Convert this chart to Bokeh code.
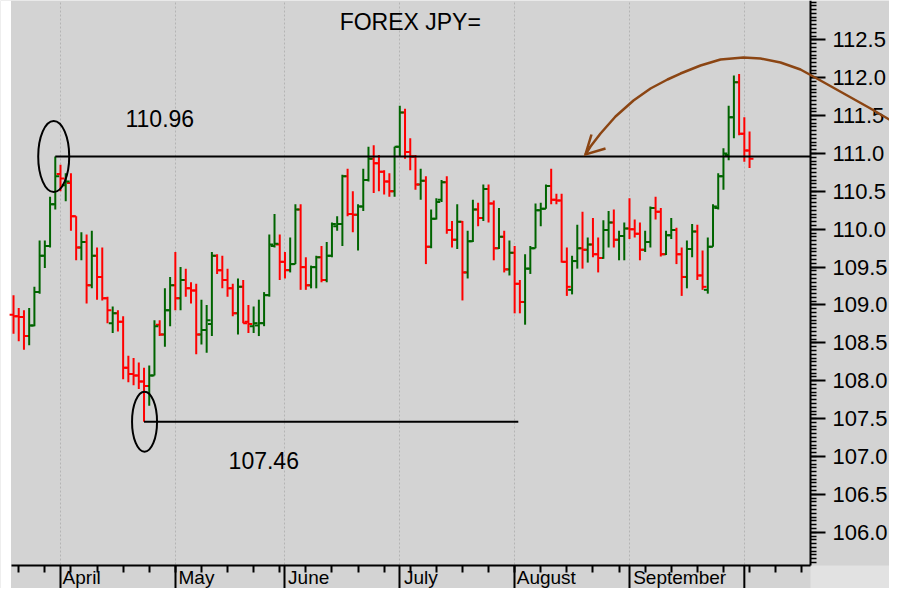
import numpy as np
import pandas as pd
from bokeh.plotting import figure
from bokeh.models import (Range1d, FixedTicker, Label, ColumnDataSource,
                          PrintfTickFormatter)
from bokeh.embed import file_html
from bokeh.resources import INLINE

# ---------------- data (USD/JPY daily bars) ----------------
start_date = "2021-03-19"
end_date = "2021-10-04"

open_ = [108.87, 108.85, 108.84, 108.59, 108.73, 109.17, 109.65, 109.78, 110.33,
         110.73, 110.58, 110.61, 110.17, 109.76, 109.83, 109.26, 109.65, 109.37, 109.09,
         108.76, 108.89, 108.78, 108.17, 108.09, 108.07, 107.99, 107.93, 108.07, 108.74,
         108.61, 108.93, 109.26, 109.09, 109.33, 109.22, 109.19, 108.61, 108.67, 108.75,
         109.65, 109.46, 109.33, 109.22, 108.89, 109.24, 108.78, 108.72, 108.73, 108.76,
         109.13, 109.78, 109.80, 109.57, 109.46, 109.54, 110.26, 109.50, 109.26, 109.50,
         109.63, 109.33, 109.65, 110.04, 110.07, 110.70, 110.20, 110.19, 110.30, 110.65,
         110.93, 110.87, 110.76, 110.63, 110.50, 111.09, 111.54, 111.02, 110.96, 110.59,
         110.64, 109.77, 110.14, 110.39, 110.62, 109.99, 109.86, 110.10, 109.43, 109.84,
         110.26, 110.15, 110.53, 110.34, 109.75, 109.90, 109.47, 109.69, 109.28, 109.04,
         109.48, 109.75, 110.25, 110.27, 110.57, 110.39, 110.38, 109.57, 109.20, 109.58,
         109.75, 109.73, 109.80, 109.67, 109.62, 109.99, 110.09, 109.86, 109.91, 110.01,
         110.00, 109.94, 109.73, 109.83, 110.28, 110.23, 109.67, 109.92, 109.99, 109.67,
         109.37, 109.74, 109.97, 109.39, 109.20, 109.77, 110.28, 110.70, 110.98, 111.48,
         111.94, 111.26, 111.04]

high = [109.13, 108.96, 108.93, 108.96, 109.24, 109.85, 109.85, 110.43, 110.96,
        110.85, 110.74, 110.74, 110.17, 109.96, 109.93, 109.98, 109.76, 109.76, 109.11,
        108.98, 108.93, 108.85, 108.33, 108.30, 108.24, 108.17, 108.20, 108.80, 108.80,
        109.22, 109.37, 109.70, 109.50, 109.48, 109.30, 109.28, 109.07, 109.00, 109.70,
        109.67, 109.65, 109.48, 109.28, 109.35, 109.33, 109.00, 108.98, 109.07, 109.17,
        109.93, 110.20, 109.93, 109.70, 109.89, 110.33, 110.33, 109.63, 109.52, 109.65,
        109.78, 109.83, 110.09, 110.17, 110.72, 110.80, 110.50, 110.33, 110.80, 111.09,
        111.11, 110.98, 110.78, 110.74, 111.09, 111.63, 111.59, 111.20, 110.98, 110.80,
        110.70, 110.26, 110.41, 110.65, 110.70, 110.11, 110.33, 110.11, 109.98, 110.39,
        110.35, 110.59, 110.59, 110.38, 110.28, 109.98, 109.85, 109.78, 109.33, 109.67,
        109.78, 110.34, 110.35, 110.59, 110.80, 110.47, 110.47, 109.76, 109.65, 110.06,
        110.23, 109.89, 110.15, 109.89, 110.12, 110.24, 110.26, 109.98, 110.09, 110.41,
        110.13, 110.09, 109.98, 110.30, 110.43, 110.28, 109.98, 110.15, 110.02, 109.76,
        109.85, 110.07, 110.06, 109.72, 109.89, 110.33, 110.74, 111.07, 111.63, 112.03,
        112.05, 111.48, 111.29]

low = [108.62, 108.52, 108.41, 108.47, 108.72, 109.15, 109.49, 109.76, 110.26,
       110.50, 110.37, 109.98, 109.59, 109.59, 109.02, 109.22, 109.07, 109.06, 108.76,
       108.63, 108.65, 108.02, 107.98, 107.94, 107.89, 107.46, 107.67, 108.07, 108.59,
       108.45, 108.72, 108.93, 108.93, 109.11, 109.02, 108.35, 108.48, 108.37, 108.59,
       109.41, 109.22, 109.11, 108.85, 108.61, 108.76, 108.63, 108.63, 108.59, 108.72,
       109.11, 109.76, 109.33, 109.35, 109.43, 109.54, 109.20, 109.20, 109.22, 109.22,
       109.30, 109.30, 109.63, 109.98, 109.78, 110.17, 109.96, 109.72, 110.24, 110.63,
       110.48, 110.50, 110.46, 110.43, 110.43, 110.96, 110.93, 110.78, 110.52, 110.39,
       109.54, 109.75, 110.13, 110.36, 109.94, 109.76, 109.74, 109.06, 109.35, 109.83,
       110.04, 110.11, 110.09, 109.59, 109.74, 109.43, 109.39, 108.89, 108.89, 108.74,
       109.41, 109.75, 110.04, 110.27, 110.33, 110.33, 109.56, 109.12, 109.14, 109.48,
       109.48, 109.56, 109.63, 109.43, 109.61, 109.76, 109.76, 109.59, 109.59, 109.87,
       109.89, 109.59, 109.70, 109.76, 110.13, 109.64, 109.66, 109.87, 109.54, 109.12,
       109.22, 109.63, 109.33, 109.20, 109.15, 109.77, 110.26, 110.52, 110.91, 111.20,
       111.24, 110.89, 110.81]

close = [108.85, 108.84, 108.59, 108.73, 109.17, 109.65, 109.78, 110.33, 110.70,
         110.67, 110.63, 110.17, 109.76, 109.83, 109.26, 109.65, 109.37, 109.09, 108.93,
         108.89, 108.78, 108.17, 108.09, 108.07, 107.99, 107.93, 108.07, 108.72, 108.61,
         108.93, 109.26, 109.09, 109.33, 109.22, 109.19, 108.61, 108.67, 108.80, 109.65,
         109.46, 109.33, 109.22, 108.89, 109.24, 108.76, 108.75, 108.76, 108.76, 109.13,
         109.80, 109.81, 109.57, 109.46, 109.54, 110.26, 109.50, 109.26, 109.50, 109.63,
         109.33, 109.65, 110.07, 110.07, 110.70, 110.20, 110.19, 110.30, 110.65, 110.93,
         110.87, 110.76, 110.63, 110.50, 111.09, 111.54, 111.02, 110.96, 110.59, 110.64,
         109.77, 110.14, 110.36, 110.62, 109.99, 109.86, 110.10, 109.43, 109.84, 110.26,
         110.15, 110.53, 110.34, 109.75, 109.90, 109.47, 109.69, 109.28, 109.04, 109.48,
         109.75, 110.25, 110.27, 110.57, 110.39, 110.38, 109.57, 109.24, 109.58, 109.75,
         109.73, 109.80, 109.67, 109.62, 109.99, 110.09, 109.86, 109.91, 110.01, 110.00,
         109.94, 109.73, 109.83, 110.28, 110.23, 109.67, 109.92, 109.99, 109.67, 109.37,
         109.74, 109.97, 109.39, 109.24, 109.77, 110.30, 110.70, 111.00, 111.48, 111.94,
         111.26, 111.04, 110.93]

y_ticks = [106.0, 106.5, 107.0, 107.5, 108.0, 108.5, 109.0, 109.5,
           110.0, 110.5, 111.0, 111.5, 112.0, 112.5]
month_labels = ["April", "May", "June", "July", "August", "September"]
label_pad = [8, 8, 9, 8, 12, 19]          # non-breaking spaces: left-aligned look
title_text = "FOREX JPY="
high_level = 110.96
low_level = 107.46

# ---------------- layout constants (data units) ----------------
X0, X1 = -2.494, 167.81            # whole canvas
Y0, Y1 = 105.257, 113.02
FR_L, FR_R = -0.387, 152.678       # chart area left / right
FR_B = 105.56                      # chart area bottom (x-axis line)

dates = pd.bdate_range(start_date, end_date)
idx = np.arange(len(dates))
colors = ["#006400" if c > o else "#ff0000" for o, c in zip(open_, close)]
src = ColumnDataSource(dict(x=idx, o=open_, h=high, l=low, c=close, col=colors,
                            xl=idx - 0.75, xr=idx + 0.75))

tick_dates = pd.bdate_range(start_date, "2021-10-22")
month_pos = [int(np.argmax(tick_dates.month == m)) for m in range(4, 11)]
monday_pos = [int(i) for i in np.where(tick_dates.weekday == 0)[0]]

W, H = 889, 588
p = figure(width=W, height=H, output_backend="svg", toolbar_location=None,
           x_range=Range1d(X0, X1), y_range=Range1d(Y0, Y1),
           x_axis_location="below", y_axis_location="right",
           min_border_left=0, min_border_right=0, min_border_top=0, min_border_bottom=0)
p.background_fill_color = "#d3d3d3"
p.border_fill_color = "#d3d3d3"
p.outline_line_color = None

# page-edge strip and lighter corner
p.quad(left=[X0], right=[-0.483], bottom=[Y0], top=[Y1], fill_color="white", line_color=None)
p.quad(left=[FR_R], right=[X1], bottom=[Y0], top=[FR_B], fill_color="#e2e2e2", line_color=None)

# x axis (fixed at the chart bottom)
xa = p.xaxis[0]
xa.fixed_location = FR_B
xa.bounds = (FR_L, FR_R)
xa.ticker = FixedTicker(ticks=month_pos[:6], minor_ticks=monday_pos)
xa.major_label_overrides = {pos: "\u00a0" * n + name
                            for pos, name, n in zip(month_pos[:6], month_labels, label_pad)}
xa.major_label_text_font = "Liberation Sans"
xa.major_label_text_font_size = "19px"
xa.major_label_text_color = "black"
xa.major_label_standoff = -22
xa.major_tick_out = 23
xa.major_tick_in = 0
xa.minor_tick_out = 7
xa.minor_tick_in = 0
xa.axis_line_width = 2
xa.major_tick_line_width = 2
xa.minor_tick_line_width = 2
p.segment(x0=[month_pos[6]], y0=[Y0], x1=[month_pos[6]], y1=[FR_B],
          color="black", line_width=2)

# y axis (right, fixed at the chart's right edge)
ya = p.yaxis[0]
ya.fixed_location = FR_R
ya.bounds = (FR_B, Y1)
ya.ticker = FixedTicker(ticks=y_ticks, minor_ticks=list(np.arange(105.6, 113.0, 0.05)))
ya.formatter = PrintfTickFormatter(format="%.1f")
ya.major_tick_out = 15
ya.major_tick_in = 0
ya.minor_tick_out = 6
ya.minor_tick_in = 0
ya.major_label_standoff = 7
ya.axis_line_width = 2
ya.major_tick_line_width = 2
ya.minor_tick_line_width = 1.5
ya.major_label_text_font = "Liberation Sans"
ya.major_label_text_font_size = "22px"
ya.major_label_text_color = "black"

p.xgrid.ticker = FixedTicker(ticks=month_pos)
p.xgrid.grid_line_color = "#b4b4b4"
p.xgrid.grid_line_dash = "2 2"
p.xgrid.grid_line_width = 1
p.ygrid.visible = False

# OHLC bars
p.segment(x0="x", y0="l", x1="x", y1="h", color="col", line_width=2, source=src)
p.segment(x0="xl", y0="o", x1="x", y1="o", color="col", line_width=2, source=src)
p.segment(x0="x", y0="c", x1="xr", y1="c", color="col", line_width=2, source=src)

# level lines
hi_i = high.index(high_level)
lo_i = low.index(low_level)
p.line([hi_i, FR_R], [high_level, high_level], color="black", line_width=2)
p.line([lo_i, 96.7], [low_level, low_level], color="black", line_width=2)

# ellipses
p.ellipse(x=[hi_i - 0.3], y=[high_level], width=31, height=71,
          width_units="screen", height_units="screen",
          fill_alpha=0, line_color="black", line_width=2)
p.ellipse(x=[lo_i + 0.1], y=[low_level], width=25, height=60,
          width_units="screen", height_units="screen",
          fill_alpha=0, line_color="black", line_width=2)

font = "Liberation Sans"
p.add_layout(Label(x=21.45, y=111.46, text=f"{high_level:.2f}", text_font=font,
                   text_font_size="23px", text_color="black",
                   text_align="left", text_baseline="middle"))
p.add_layout(Label(x=41.2, y=106.95, text=f"{low_level:.2f}", text_font=font,
                   text_font_size="23px", text_color="black",
                   text_align="left", text_baseline="middle"))
p.add_layout(Label(x=76.0, y=112.73, text=title_text, text_font=font,
                   text_font_size="23px", text_color="black",
                   text_align="center", text_baseline="middle"))

# curved arrow
cx = [170.88, 169.73, 164.17, 159.38, 154.59, 150.76, 146.93, 143.10, 139.84, 135.44,
      131.61, 127.77, 125.28, 122.03, 118.77, 115.32, 112.45, 110.53, 109.57]
cy = [111.317, 111.370, 111.594, 111.779, 111.964, 112.109, 112.201, 112.254, 112.267,
      112.241, 112.162, 112.056, 111.977, 111.858, 111.700, 111.488, 111.264, 111.092,
      110.987]
brown = "#8b4513"
p.line(cx, cy, color=brown, line_width=2.5, line_join="round", level="overlay")
p.line([110.72, 109.57, 113.41], [111.251, 110.987, 111.066], color=brown,
       line_width=2.5, line_join="miter", level="overlay")

open("out.html", "w").write(file_html(p, INLINE))
